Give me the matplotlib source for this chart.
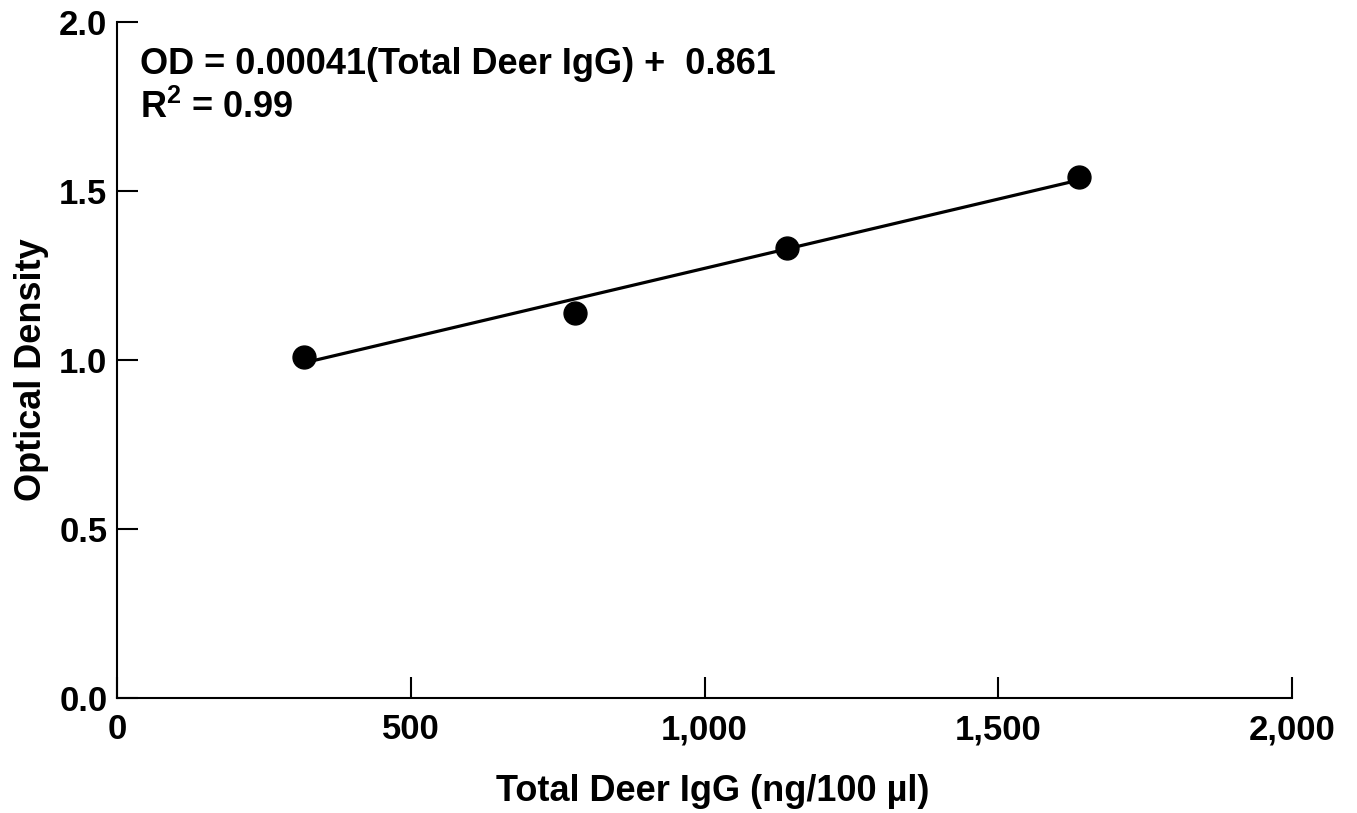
import matplotlib
matplotlib.use("Agg")
import matplotlib.pyplot as plt
import numpy as np

plt.rcParams['font.family'] = ['Liberation Sans', 'DejaVu Sans']
plt.rcParams['font.weight'] = 'bold'
plt.rcParams['mathtext.fontset'] = 'custom'
plt.rcParams['mathtext.rm'] = 'Liberation Sans:bold'

# valeurs
igg = [318, 780, 1140, 1638]
densite = [1.01, 1.14, 1.33, 1.54]
pente = 0.00041
ordonnee = 0.861
r2 = 0.99

x_ticks = [0, 500, 1000, 1500, 2000]
x_labels = ["0", "500", "1,000", "1,500", "2,000"]
y_ticks = [0.0, 0.5, 1.0, 1.5, 2.0]
y_labels = ["0.0", "0.5", "1.0", "1.5", "2.0"]

fig = plt.figure(figsize=(13.57, 8.13), dpi=100)
ax = fig.add_axes([0.0862, 0.1415, 0.866, 0.8315])

# droite de regression
x_fit = np.array([min(igg), max(igg)])
ax.plot(x_fit, pente * x_fit + ordonnee, color='black', lw=2.3, zorder=2)
ax.plot(igg, densite, 'o', color='black', ms=16.5, zorder=3, clip_on=False)

ax.set_xlim(0, 2000)
ax.set_ylim(0, 2.0)
ax.set_xticks(x_ticks)
ax.set_xticklabels(x_labels)
ax.set_yticks(y_ticks)
ax.set_yticklabels(y_labels)

for s in ['top', 'right']:
    ax.spines[s].set_visible(False)
for s in ['left', 'bottom']:
    ax.spines[s].set_linewidth(1.5)

ax.tick_params(axis='both', direction='in', length=15, width=1.5, labelsize=25)
ax.tick_params(axis='x', pad=11)
ax.tick_params(axis='y', pad=7)
for lab in ax.get_xticklabels() + ax.get_yticklabels():
    lab.set_fontweight('bold')

ax.set_xlabel("Total Deer IgG (ng/100 \u00b5l)", fontsize=26, fontweight='bold')
ax.set_ylabel("Optical Density", fontsize=26, fontweight='bold')
ax.xaxis.set_label_coords(0.507, -0.112)
ax.yaxis.set_label_coords(-0.058, 0.485)

ax.text(0.02, 0.923, f"OD = {pente:.5f}(Total Deer IgG) +  {ordonnee}",
        transform=ax.transAxes, fontsize=26, fontweight='bold', va='baseline')
ax.text(0.02, 0.858, f"R$^{{2}}$ = {r2}", transform=ax.transAxes,
        fontsize=26, fontweight='bold', va='baseline')

fig.savefig("out.png", dpi=100)
